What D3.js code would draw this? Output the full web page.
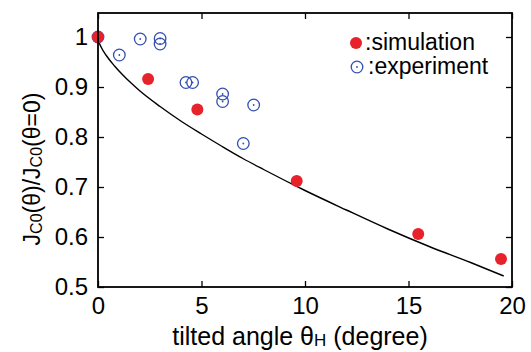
<!DOCTYPE html>
<meta charset="utf-8">
<script src="https://cdn.jsdelivr.net/npm/d3@7"></script>
<style>
  body { margin: 0; background: #fff; }
  text { font-family: "Liberation Sans", Arial, sans-serif; }
</style>
<div id="my_dataviz"></div>
<script>

// simulation points (red)
var simX = [0, 2.42, 4.8, 9.6, 15.47, 19.47];
var simY = [1.0, 0.916, 0.855, 0.712, 0.606, 0.556];

// experiment points (blue open circles)
var expX = [0, 1.03, 2.04, 3.0, 3.0, 4.25, 4.57, 6.02, 6.02, 7.52, 7.02];
var expY = [1.0, 0.964, 0.996, 0.997, 0.986, 0.909, 0.909, 0.886, 0.871, 0.864, 0.787];

// theory curve (black line)
var curveX = [0, 0.05, 0.15, 0.4, 0.8, 1.2, 1.6, 2, 3, 4, 5, 6, 7, 8, 10, 12, 14, 16, 18, 19.6];
var curveY = [1.0, 0.99, 0.98, 0.963, 0.942, 0.924, 0.908, 0.893, 0.861, 0.832, 0.806, 0.781, 0.757, 0.735, 0.693, 0.654, 0.616, 0.581, 0.549, 0.522];

var xTicks = [0, 5, 10, 15, 20];
var yTicks = [0.5, 0.6, 0.7, 0.8, 0.9, 1];

var margin = {top: 13, right: 19, bottom: 65, left: 98},
    width = 531 - margin.left - margin.right,
    height = 352 - margin.top - margin.bottom;

var svg = d3.select("#my_dataviz")
  .append("svg")
    .attr("width", 531)
    .attr("height", 352)
  .append("g")
    .attr("transform", "translate(" + margin.left + "," + margin.top + ")");

var x = d3.scaleLinear().domain([0, 20]).range([0, width]);
var y = d3.scaleLinear().domain([0.5, 1.048]).range([height, 0]);

var fmtY = function(d) { return d === 1 ? "1" : d3.format(".1f")(d); };

// inward ticks on all four sides
function styleAxis(g) {
  g.select(".domain").remove();
  g.selectAll("line").attr("stroke", "#000").attr("stroke-width", 1.3);
  g.selectAll("text").style("font-size", "24px").attr("fill", "#000");
}

svg.append("g")
  .attr("transform", "translate(0," + height + ")")
  .call(d3.axisBottom(x).tickValues(xTicks).tickSize(-6).tickPadding(10))
  .call(styleAxis);

svg.append("g")
  .call(d3.axisTop(x).tickValues(xTicks).tickSize(-6).tickFormat(""))
  .call(styleAxis);

svg.append("g")
  .call(d3.axisLeft(y).tickValues(yTicks).tickSize(-6).tickPadding(10).tickFormat(fmtY))
  .call(styleAxis);

svg.append("g")
  .attr("transform", "translate(" + width + ",0)")
  .call(d3.axisRight(y).tickValues(yTicks).tickSize(-6).tickFormat(""))
  .call(styleAxis);

// curve
var line = d3.line()
  .x(function(d) { return x(d[0]); })
  .y(function(d) { return y(d[1]); })
  .curve(d3.curveMonotoneX);

svg.append("path")
  .datum(d3.zip(curveX, curveY))
  .attr("d", line)
  .attr("fill", "none")
  .attr("stroke", "#000")
  .attr("stroke-width", 1.4);

// experiment
var blue = "#3450b0";
var exp = svg.selectAll("g.exp")
  .data(d3.zip(expX, expY))
  .enter()
  .append("g")
    .attr("transform", function(d) { return "translate(" + x(d[0]) + "," + y(d[1]) + ")"; });
exp.append("circle").attr("r", 5.8).attr("fill", "none").attr("stroke", blue).attr("stroke-width", 1.3);
exp.append("circle").attr("r", 0.9).attr("fill", blue);

// simulation
var red = "#e8222a";
svg.selectAll("circle.sim")
  .data(d3.zip(simX, simY))
  .enter()
  .append("circle")
    .attr("class", "sim")
    .attr("cx", function(d) { return x(d[0]); })
    .attr("cy", function(d) { return y(d[1]); })
    .attr("r", 6)
    .attr("fill", red);

// frame
svg.append("rect")
  .attr("width", width)
  .attr("height", height)
  .attr("fill", "none")
  .attr("stroke", "#000")
  .attr("stroke-width", 1.8);

// legend
var leg = svg.append("g").attr("transform", "translate(258,30)");
leg.append("circle").attr("r", 6).attr("fill", red);
leg.append("text").attr("x", 9).attr("y", 7).style("font-size", "23px").text(":simulation");
leg.append("circle").attr("cx", 1).attr("cy", 24).attr("r", 5.8).attr("fill", "none").attr("stroke", blue).attr("stroke-width", 1.3);
leg.append("circle").attr("cx", 1).attr("cy", 24).attr("r", 0.9).attr("fill", blue);
leg.append("text").attr("x", 12).attr("y", 31).style("font-size", "23px").text(":experiment");

// axis labels
var xl = svg.append("text")
  .attr("x", 202)
  .attr("y", height + 58)
  .attr("text-anchor", "middle")
  .style("font-size", "25px");
xl.append("tspan").text("tilted angle \u03b8");
xl.append("tspan").attr("dy", 1).style("font-size", "17px").text("H");
xl.append("tspan").attr("dy", -1).text(" (degree)");

var yl = svg.append("text")
  .attr("transform", "translate(-58,156) rotate(-90)")
  .attr("text-anchor", "middle")
  .style("font-size", "23px");
yl.append("tspan").text("J");
yl.append("tspan").attr("dy", 2).style("font-size", "16px").text("C0");
yl.append("tspan").attr("dy", -2).text("(\u03b8)/J");
yl.append("tspan").attr("dy", 2).style("font-size", "16px").text("C0");
yl.append("tspan").attr("dy", -2).text("(\u03b8=0)");

</script>
